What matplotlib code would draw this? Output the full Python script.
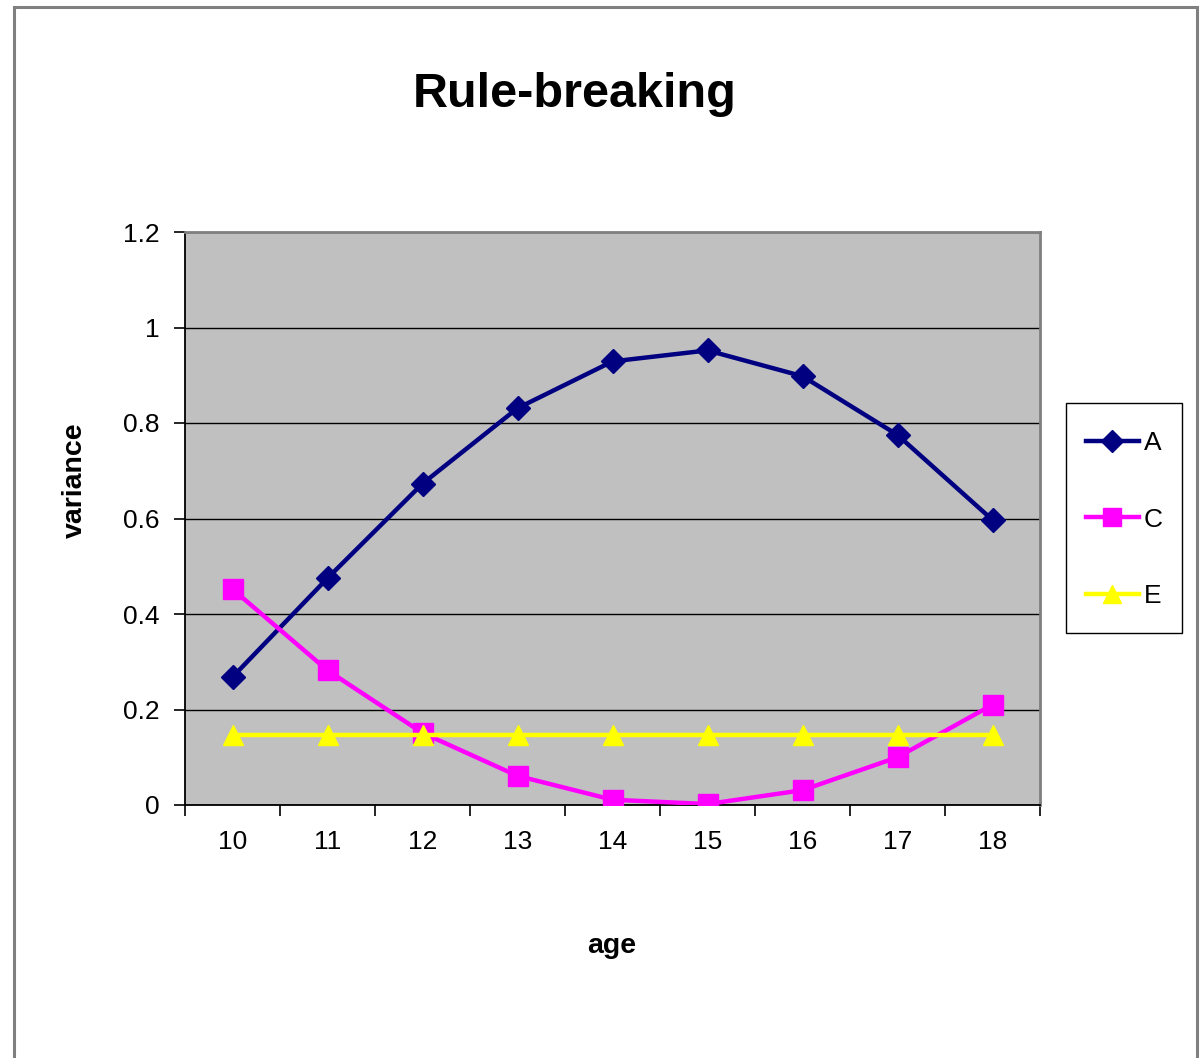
import matplotlib.pyplot as plt
from matplotlib.patches import Rectangle
from matplotlib.ticker import FixedLocator, NullFormatter, FixedFormatter

plt.rcParams['font.family'] = ['Liberation Sans', 'DejaVu Sans']

# variance components by age
ages = ['10', '11', '12', '13', '14', '15', '16', '17', '18']
var_a = [0.268, 0.475, 0.673, 0.831, 0.929, 0.952, 0.898, 0.775, 0.597]
var_c = [0.452, 0.282, 0.151, 0.061, 0.011, 0.002, 0.031, 0.100, 0.210]
var_e = [0.146, 0.146, 0.146, 0.146, 0.146, 0.146, 0.146, 0.146, 0.146]

W, H = 1201, 1058
fig = plt.figure(figsize=(W / 100, H / 100), dpi=100)
fig.patch.set_facecolor('white')

# chart border (bottom edge runs off the image)
fig.patches.append(Rectangle((14 / W, -0.01), (1197 - 14) / W, 1.01 - 7 / H,
                             transform=fig.transFigure, fill=False,
                             edgecolor='#808080', linewidth=2.2))

ax = fig.add_axes([185 / W, 1 - 805 / H, (1040 - 185) / W, (805 - 232) / H])
ax.set_facecolor('#C0C0C0')

x = list(range(len(ages)))
ax.plot(x, var_a, color='#000080', lw=3.2, marker='D', ms=12,
        label='A', zorder=3)
ax.plot(x, var_c, color='#FF00FF', lw=3.2, marker='s', ms=15,
        label='C', zorder=4)
ax.plot(x, var_e, color='#FFFF00', lw=3.2, marker='^', ms=14,
        label='E', zorder=5)

ax.set_xlim(-0.5, len(ages) - 0.5)
ax.set_ylim(0, 1.2)

yt = [0, 0.2, 0.4, 0.6, 0.8, 1.0, 1.2]
ax.set_yticks(yt)
ax.set_yticklabels(['0', '0.2', '0.4', '0.6', '0.8', '1', '1.2'])
ax.grid(axis='y', color='black', lw=1)
ax.set_axisbelow(True)

# ticks sit between categories, labels in the middle of each slot
ax.xaxis.set_major_locator(FixedLocator([i - 0.5 for i in range(len(ages) + 1)]))
ax.xaxis.set_major_formatter(NullFormatter())
ax.xaxis.set_minor_locator(FixedLocator(x))
ax.xaxis.set_minor_formatter(FixedFormatter(ages))
ax.tick_params(axis='x', which='major', direction='out', length=8, width=1.2)
ax.tick_params(axis='x', which='minor', length=0, pad=18, labelsize=19)
ax.tick_params(axis='y', direction='out', length=8, width=1.2, pad=10, labelsize=19)

for side in ('left', 'bottom'):
    ax.spines[side].set_color('black')
    ax.spines[side].set_linewidth(1.3)
for side in ('top', 'right'):
    ax.spines[side].set_color('#808080')
    ax.spines[side].set_linewidth(2)

fig.text(575 / W, 1 - 107 / H, 'Rule-breaking', ha='center', va='baseline',
         fontsize=35, fontweight='bold')
fig.text(75 / W, 1 - 480 / H, 'variance', ha='center', va='center',
         rotation=90, fontsize=20.5, fontweight='bold')
fig.text(612 / W, 1 - 953 / H, 'age', ha='center', va='baseline',
         fontsize=20.5, fontweight='bold')

# legend entries without frame, box drawn separately
fig.legend(loc='upper left', bbox_to_anchor=(1066 / W, 1 - 411 / H),
           fontsize=19, frameon=False, handlelength=2.0, handletextpad=0.2,
           labelspacing=2.0, borderpad=0.75, borderaxespad=0, markerscale=0.9)
fig.patches.append(Rectangle((1066 / W, 1 - 633 / H), (1182 - 1066) / W,
                             (633 - 403) / H, transform=fig.transFigure,
                             fill=False, edgecolor='black', linewidth=1))

fig.savefig('out.png', dpi=100)
